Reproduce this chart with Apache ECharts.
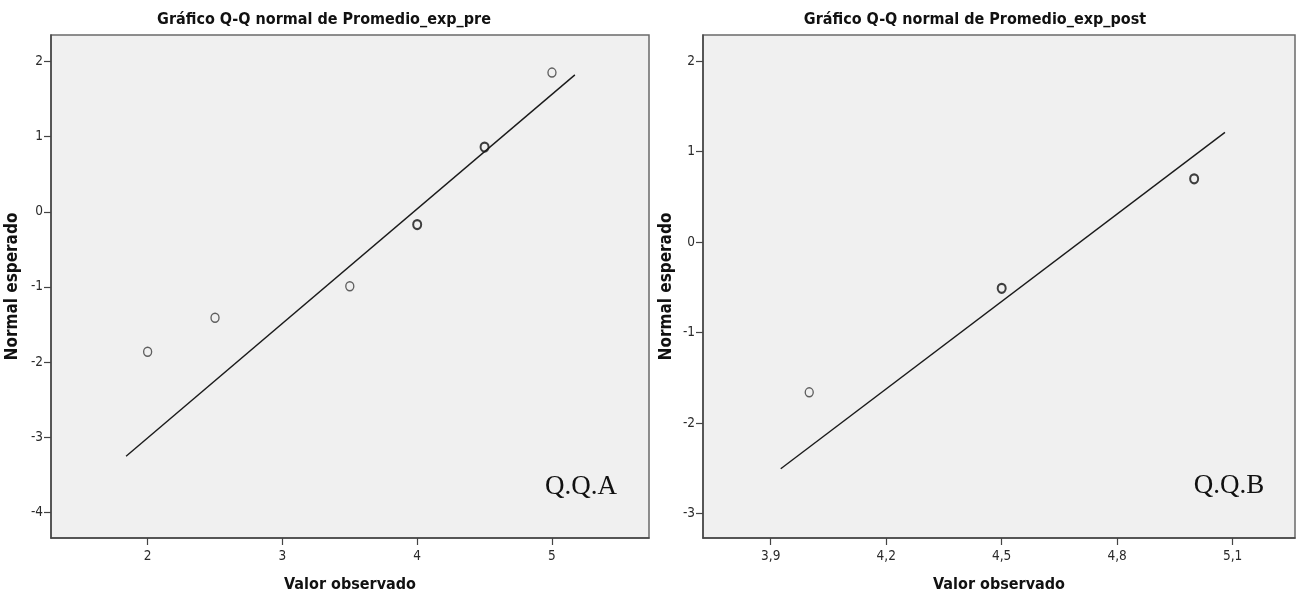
<!DOCTYPE html>
<html>
<head>
<meta charset="utf-8">
<script src="https://cdn.jsdelivr.net/npm/echarts@6/dist/echarts.min.js"></script>
<style>
  html, body { margin: 0; padding: 0; background: #ffffff; }
  #chart { width: 1296px; height: 601px; }
</style>
</head>
<body>
<div id="chart"></div>
<script>
// Q-Q normal plot, pre-test averages
const preObserved = [2, 2.5, 3.5, 4, 4.5, 5];
const preExpected = [-1.86, -1.41, -0.99, -0.17, 0.86, 1.85];
const preTies = [1, 1, 1, 2, 2, 1];
const preLineX = [1.84, 5.17];
const preLineY = [-3.25, 1.82];
const preXTicks = [2, 3, 4, 5];
const preYTicks = [-4, -3, -2, -1, 0, 1, 2];

// Q-Q normal plot, post-test averages
const postObserved = [4.0, 4.5, 5.0];
const postExpected = [-1.66, -0.51, 0.70];
const postTies = [1, 2, 2];
const postLineX = [3.926, 5.08];
const postLineY = [-2.505, 1.214];
const postXTicks = [3.9, 4.2, 4.5, 4.8, 5.1];
const postYTicks = [-3, -2, -1, 0, 1, 2];

const titles = ['Gráfico Q-Q normal de Promedio_exp_pre', 'Gráfico Q-Q normal de Promedio_exp_post'];
const xName = 'Valor observado';
const yName = 'Normal esperado';
const panelTags = ['Q.Q.A', 'Q.Q.B'];

const narrow = '"Liberation Sans Narrow", "DejaVu Sans Condensed", "Liberation Sans", Arial, sans-serif';
const serif = '"Liberation Serif", "Times New Roman", serif';

// tied observations overprint, so their rings look heavier
function points(xs, ys, ties) {
  return xs.map((x, i) => ({
    value: [x, ys[i]],
    itemStyle: { borderWidth: 1.4 + 0.7 * (ties[i] - 1), borderColor: ties[i] > 1 ? '#111' : '#3a3a3a' }
  }));
}
function segment(xs, ys) { return xs.map((x, i) => [x, ys[i]]); }

function xAxisOf(gridIndex, min, max, ticks, fmt) {
  return {
    type: 'value', gridIndex, min, max,
    name: xName, nameLocation: 'middle', nameGap: 39,
    nameTextStyle: { fontFamily: narrow, fontWeight: 'bold', fontSize: 16, color: '#111' },
    axisLine: { show: true, onZero: false, lineStyle: { color: '#444', width: 1.5 } },
    axisTick: { show: true, length: 7, customValues: ticks, lineStyle: { color: '#444', width: 1.2 } },
    axisLabel: { customValues: ticks, margin: 11, fontFamily: narrow, fontSize: 13.5, color: '#2a2a2a', formatter: fmt },
    splitLine: { show: false }
  };
}

function yAxisOf(gridIndex, min, max, ticks, gap) {
  return {
    type: 'value', gridIndex, min, max,
    name: yName, nameLocation: 'middle', nameRotate: 90, nameGap: gap,
    nameTextStyle: { fontFamily: narrow, fontWeight: 'bold', fontSize: 17, color: '#111' },
    axisLine: { show: true, onZero: false, lineStyle: { color: '#444', width: 1.5 } },
    axisTick: { show: true, length: 7, customValues: ticks, lineStyle: { color: '#444', width: 1.2 } },
    axisLabel: { customValues: ticks, margin: 8, fontFamily: narrow, fontSize: 13.5, color: '#2a2a2a',
      formatter: v => String(Math.round(v)) },
    splitLine: { show: false }
  };
}

const pointStyle = { color: 'rgba(0,0,0,0)', borderColor: '#2a2a2a', borderWidth: 1.5 };
const fitStyle = { color: '#1a1a1a', width: 1.4 };

const chart = echarts.init(document.getElementById('chart'), null, { renderer: 'canvas' });
chart.setOption({
  backgroundColor: '#ffffff',
  animation: false,
  grid: [
    { left: 51, top: 35, width: 598, height: 503, show: true, backgroundColor: '#f0f0f0', borderColor: '#6a6a6a', borderWidth: 1.5 },
    { left: 703, top: 35, width: 592, height: 503, show: true, backgroundColor: '#f0f0f0', borderColor: '#6a6a6a', borderWidth: 1.5 }
  ],
  xAxis: [
    xAxisOf(0, 1.283, 5.72, preXTicks, v => String(Math.round(v))),
    xAxisOf(1, 3.724, 5.262, postXTicks, v => v.toFixed(1).replace('.', ','))
  ],
  yAxis: [
    yAxisOf(0, -4.337, 2.35, preYTicks, 30),
    yAxisOf(1, -3.27, 2.29, postYTicks, 28)
  ],
  series: [
    { type: 'line', xAxisIndex: 0, yAxisIndex: 0, data: segment(preLineX, preLineY), symbol: 'none', lineStyle: fitStyle, silent: true },
    { type: 'scatter', xAxisIndex: 0, yAxisIndex: 0, data: points(preObserved, preExpected, preTies), symbol: 'circle', symbolSize: [8, 9], itemStyle: pointStyle },
    { type: 'line', xAxisIndex: 1, yAxisIndex: 1, data: segment(postLineX, postLineY), symbol: 'none', lineStyle: fitStyle, silent: true },
    { type: 'scatter', xAxisIndex: 1, yAxisIndex: 1, data: points(postObserved, postExpected, postTies), symbol: 'circle', symbolSize: [8, 9], itemStyle: pointStyle }
  ],
  graphic: [
    { type: 'text', x: 324, y: 20, style: { text: titles[0], align: 'center', verticalAlign: 'middle', font: 'bold 16px ' + narrow, fill: '#111' } },
    { type: 'text', x: 975, y: 20, style: { text: titles[1], align: 'center', verticalAlign: 'middle', font: 'bold 16px ' + narrow, fill: '#111' } },
    { type: 'text', x: 581, y: 487, style: { text: panelTags[0], align: 'center', verticalAlign: 'middle', font: '27px ' + serif, fill: '#111' } },
    { type: 'text', x: 1229, y: 486, style: { text: panelTags[1], align: 'center', verticalAlign: 'middle', font: '27px ' + serif, fill: '#111' } }
  ]
});
</script>
</body>
</html>
